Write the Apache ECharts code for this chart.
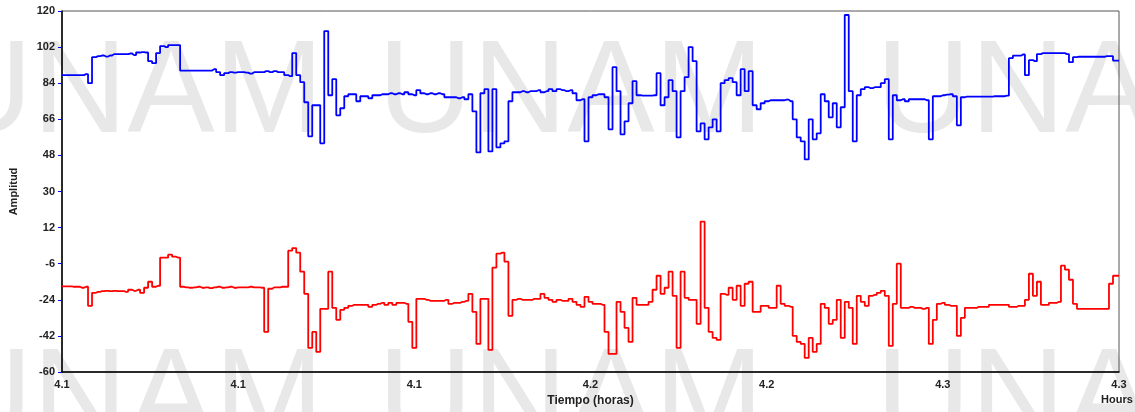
<!DOCTYPE html>
<html>
<head>
<meta charset="utf-8">
<script src="https://cdn.jsdelivr.net/npm/echarts@6/dist/echarts.min.js"></script>
<style>
  html, body { margin: 0; padding: 0; background: #fff; }
  #chart { width: 1135px; height: 412px; }
</style>
</head>
<body>
<div id="chart"></div>
<script>
// tick labels of the time axis (hours, shown rounded)
const timeLabels = ['4.1', '4.1', '4.1', '4.2', '4.2', '4.3', '4.3']
// amplitude axis goes -60..120 in steps of 18
const ampMin = -60
const ampMax = 120
const ampStep = 18

// upper trace (blue), evenly spaced samples across the time axis
const blueTrace = [
  88, 88, 88, 88, 88, 88, 88.5, 84, 97, 97.5,
  97.8, 97.3, 97.8, 98.5, 98.5, 98.5, 98.5, 98.8, 98, 99.3,
  99.5, 99.3, 95, 94, 99, 102.5, 102, 103, 103, 103,
  90.3, 90.3, 90.3, 90.3, 90.3, 90.3, 90.3, 90.3, 91, 89.5,
  88, 89, 89.5, 89.3, 89.5,
  89.5, 89.3, 88.8, 89.5, 89.5, 89.5, 90, 89.5, 90, 89.5,
  89.5, 88, 87.5, 99, 88, 84.5, 74.5, 57.5, 73, 73,
  54, 110, 78, 86, 68, 71.5, 77.5, 78.5, 78.5, 75,
  77.5, 77.5, 76.5, 78, 78, 78.5, 78.5, 79, 78.5, 79,
  78.5, 79.5, 78.5, 78,
  80.5, 79, 78.5, 79, 78.5, 79, 78.5, 77, 77, 77,
  76.5, 77, 76, 78.5, 70, 49.5, 79, 81, 50, 81,
  52, 54, 55, 75, 79.5, 79.5, 80, 79.5, 80, 80,
  80.5, 79.5, 80, 81, 80, 81, 80.5, 80, 80.5, 79,
  75.5, 76, 55, 77,
  78, 78.5, 78.5, 77, 61, 92, 80, 58.5, 65, 74,
  85, 78, 77.8, 77.8, 77.8, 78, 89, 73, 77, 85.5,
  80, 57, 80, 87, 102, 95, 60, 64, 56, 62,
  66, 60, 84, 85.5, 86.5, 84.5, 78, 91, 80, 90,
  73, 71, 74, 75,
  75.5, 75.5, 75.5, 75.5, 75.8, 75, 66, 57, 55, 46,
  66, 56, 59, 78.5, 75, 67, 74, 62, 72, 118,
  80, 55, 78, 81, 82, 81.5, 82, 82, 84, 86,
  56, 78, 75.5, 76, 75, 76, 76, 76, 76, 75.5,
  56, 77.5, 77.5, 78,
  78.3, 78.5, 77.5, 63, 77, 77.3, 77.3, 77.3, 77.3, 77.3,
  77.3, 77.3, 77.5, 77.5, 77.5, 77.8, 96.5, 97.7, 97.7, 98.3,
  88, 95.5, 95, 98.5, 99, 99, 99, 99, 99, 99,
  98.5, 94.5, 97, 97.2, 97.2, 97.2, 97.2, 97.2, 97.2, 97.2,
  97.5, 97.5, 95.3, 95.3
]

// lower trace (red)
const redTrace = [
  -17.3, -17.3, -17.3, -17.5, -17.5, -18, -17.5, -27, -20.5, -20,
  -19.7, -19.5, -19.7, -19.5, -19.7, -19.7, -20, -19, -19.5, -19,
  -20.5, -18, -15, -17.5, -17, -3, -3, -1.5, -2.5, -3,
  -17.5, -17.8, -18, -17.8, -17.5, -18, -17.8, -18.2, -17.8, -17.5,
  -18, -17.8, -17.5, -18, -17.8,
  -17.8, -17.8, -17.5, -17.8, -17.8, -18, -40, -18.5, -17.8, -17.8,
  -17.5, -17.5, 0.5, 1.8, -0.5, -10, -21, -48, -40, -50,
  -28.5, -28.5, -10, -28, -34, -29, -28, -27, -26.5, -26.5,
  -26.5, -26.5, -27.5, -26.5, -26, -25.5, -26.5, -25.5, -26.5, -25.5,
  -25.5, -26, -35, -48,
  -23.5, -23.5, -24, -24.5, -24.5, -24.5, -24.5, -24, -26, -25.5,
  -25.5, -25, -24.5, -21, -30, -46, -23.5, -23.5, -49, -8,
  -1, -0.5, -5, -32, -24, -23.5, -24, -24, -24, -23.5,
  -23.5, -21, -23, -24, -25, -24, -24.5, -24.5, -23.5, -25,
  -26.5, -27.5, -22.5, -25,
  -26, -26, -26.5, -40, -51, -51, -25, -30, -38, -45,
  -23, -26.5, -26.5, -26.5, -25, -19, -12, -21, -18, -10,
  -22, -48, -10, -23, -24, -24, -36, 15, -28, -40,
  -43, -44, -21, -21.5, -18, -24, -17, -27, -16, -15,
  -30, -30, -27, -27,
  -28, -28, -17, -26, -27, -27.5, -42, -45, -46, -53,
  -43, -50, -46, -26, -28, -36, -34, -24, -43, -25,
  -28, -46, -22, -25, -27, -22, -21.5, -20.5, -19.5, -22,
  -47, -26, -6, -28, -28, -27.5, -28, -28, -28.5, -28,
  -46, -34, -26, -25.5,
  -26.5, -27, -27, -42, -33, -28, -28, -28, -27.5, -27.5,
  -27.5, -26.5, -26.5, -26.5, -26.5, -26.5, -27.5, -27.5, -27, -27,
  -24, -11, -22, -15, -26.5, -26.5, -25.5, -25.5, -25, -7,
  -9, -14, -26, -28.5, -28.5, -28.5, -28.5, -28.5, -28.5, -28.5,
  -28.5, -16, -12, -12
]

// y axis is drawn from 0 so the 18-step ticks line up, labels shifted back
const span = timeLabels.length - 1
function toPoints(arr) {
  return arr.map(function (v, i) {
    return [i * span / (arr.length - 1), v - ampMin]
  })
}

const labelFont = {
  color: '#222',
  fontWeight: 'bold',
  fontSize: 11,
  fontFamily: 'Liberation Sans'
}

function watermark(x, y) {
  return {
    type: 'text',
    left: x,
    top: y,
    z: -10,
    silent: true,
    style: {
      text: 'UNAM',
      fill: '#e8e8e8',
      font: 'normal 131px "Liberation Sans"'
    }
  }
}

let chart = echarts.init(document.getElementById('chart'))

let option = {
  animation: false,
  backgroundColor: '#fff',
  graphic: [
    watermark(-62, 30),
    watermark(378, 30),
    watermark(876, 30),
    watermark(-62, 338),
    watermark(378, 338),
    watermark(876, 338),
    {
      type: 'text',
      left: 1101,
      top: 394,
      style: {
        text: 'Hours',
        fill: '#222',
        font: 'bold 11px "Liberation Sans"'
      }
    }
  ],
  grid: {
    left: 62,
    right: 16,
    top: 11,
    bottom: 33,
    show: true,
    borderColor: '#555',
    borderWidth: 1
  },
  xAxis: {
    type: 'value',
    min: 0,
    max: span,
    interval: 1,
    name: 'Tiempo (horas)',
    nameLocation: 'middle',
    nameGap: 23,
    nameTextStyle: {
      color: '#222',
      fontWeight: 'bold',
      fontSize: 12,
      fontFamily: 'Liberation Sans'
    },
    axisLine: { lineStyle: { color: '#000', width: 1.5 } },
    axisTick: { show: false },
    splitLine: { show: false },
    axisLabel: Object.assign({
      margin: 7,
      formatter: function (v) { return timeLabels[Math.round(v)] }
    }, labelFont)
  },
  yAxis: {
    type: 'value',
    min: 0,
    max: ampMax - ampMin,
    interval: ampStep,
    name: 'Amplitud',
    nameLocation: 'middle',
    nameGap: 43,
    nameRotate: 90,
    nameTextStyle: {
      color: '#222',
      fontWeight: 'bold',
      fontSize: 11,
      fontFamily: 'Liberation Sans'
    },
    axisLine: { show: true, lineStyle: { color: '#000', width: 1.5 } },
    axisTick: { show: true, length: 4, lineStyle: { color: '#0000ff' } },
    splitLine: { show: false },
    axisLabel: Object.assign({
      margin: 7,
      formatter: function (v) { return String(v + ampMin) }
    }, labelFont)
  },
  series: [
    {
      name: 'blue',
      type: 'line',
      step: 'middle',
      showSymbol: false,
      data: toPoints(blueTrace),
      lineStyle: { color: '#0000ff', width: 1.8 }
    },
    {
      name: 'red',
      type: 'line',
      step: 'middle',
      showSymbol: false,
      data: toPoints(redTrace),
      lineStyle: { color: '#ff0000', width: 1.8 }
    }
  ]
}

chart.setOption(option)
</script>
</body>
</html>
